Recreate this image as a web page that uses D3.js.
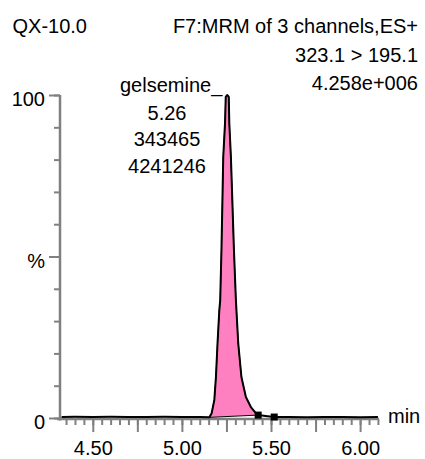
<!DOCTYPE html>
<html>
<head>
<meta charset="utf-8">
<script src="https://cdn.jsdelivr.net/npm/d3@7/dist/d3.min.js"></script>
<style>
  html, body { margin: 0; padding: 0; background: #fff; }
  svg { display: block; }
  text { font-family: Arial, "Liberation Sans", sans-serif; fill: #000; }
</style>
</head>
<body>
<svg id="chart" width="425" height="459"></svg>
<script>
// Chromatogram trace: retention time (min) and relative intensity (%)
const times = [4.325, 4.40, 4.50, 4.60, 4.70, 4.80, 4.90, 5.00, 5.10,
  5.154, 5.167, 5.182, 5.191, 5.200, 5.210, 5.215, 5.222, 5.228, 5.232, 5.242, 5.246,
  5.254, 5.263, 5.266, 5.275, 5.282, 5.292, 5.303, 5.316, 5.334, 5.359, 5.387, 5.415,
  5.428, 5.470, 5.518, 5.60, 5.70, 5.80, 5.90, 6.00, 6.10];
const intensity = [0.3, 0.35, 0.3, 0.35, 0.3, 0.3, 0.35, 0.3, 0.3,
  0.2, 1.5, 5.6, 12.7, 23.2, 33.4, 36.5, 52, 69, 80.8, 91.3, 99.4,
  100, 99.4, 91.3, 80.8, 69, 52, 36.5, 23.2, 12.7, 6.5, 3.4, 1.5,
  0.9, 0.6, 0.3, 0.3, 0.25, 0.3, 0.3, 0.25, 0.3];

// Integration window of the gelsemine peak (start / end retention times)
const peakStart = 5.154;
const peakEnd = 5.428;
// Baseline markers drawn as squares
const markerTimes = [5.428, 5.518];

// Axis ticks
const xMajorTicks = [4.50, 4.75, 5.00, 5.25, 5.50, 5.75, 6.00];
const xLabelTicks = [4.50, 5.00, 5.50, 6.00];
const xMinorStep = 0.05;
const yMinorTicks = [0, 10, 20, 30, 40, 50, 60, 70, 80, 90, 100];
const yLabelTicks = [0, 50, 100];
const yLabels = {0: "0", 50: "%", 100: "100"};

// Header and peak annotation text
const headerLeft = "QX-10.0";
const headerRight = ["F7:MRM of 3 channels,ES+", "323.1 > 195.1", "4.258e+006"];
const peakName = "gelsemine_";
const peakValues = ["5.26", "343465", "4241246"];
const xUnit = "min";

const svg = d3.select("#chart");
const x = d3.scaleLinear().domain([4.316, 6.106]).range([60, 379]);
const y = d3.scaleLinear().domain([0, 100]).range([418, 95]);

const axisColor = "#808080";
const fontSize = 20;
const fontFamily = "Arial, 'Liberation Sans', sans-serif";

// Minor x ticks every 0.05 min
const xMinor = d3.range(Math.round(4.35 / xMinorStep), Math.round(6.10 / xMinorStep) + 1)
  .map(i => +(i * xMinorStep).toFixed(2));

const gx = svg.append("g").attr("transform", `translate(0,${y(0) + 1})`);
gx.append("g")
  .call(d3.axisBottom(x).tickValues(xMinor).tickSize(6).tickFormat(""))
  .call(g => g.select(".domain").remove());
gx.append("g")
  .call(d3.axisBottom(x).tickValues(xMajorTicks).tickSize(13)
    .tickPadding(8.5)
    .tickFormat(d => xLabelTicks.includes(d) ? d3.format(".2f")(d) : ""))
  .call(g => g.select(".domain").remove())
  .call(g => g.selectAll("text").attr("font-size", fontSize)
    .style("font-family", fontFamily).attr("fill", "#000"));
gx.selectAll(".tick line").attr("stroke", axisColor).attr("stroke-width", 2);
gx.append("line")
  .attr("x1", x.range()[0] - 3).attr("x2", x.range()[1])
  .attr("stroke", axisColor).attr("stroke-width", 2.5);

// Y axis
const gy = svg.append("g").attr("transform", `translate(${x.range()[0]},0)`);
gy.append("g")
  .call(d3.axisLeft(y).tickValues(yMinorTicks).tickSize(6).tickFormat(""))
  .call(g => g.select(".domain").remove());
gy.append("g")
  .call(d3.axisLeft(y).tickValues(yLabelTicks).tickSize(11).tickPadding(4)
    .tickFormat(d => yLabels[d]))
  .call(g => g.select(".domain").remove())
  .call(g => g.selectAll("text").attr("font-size", fontSize).attr("dy", "0.54em")
    .style("font-family", fontFamily).attr("fill", "#000"));
gy.selectAll(".tick line").attr("stroke", axisColor).attr("stroke-width", 2);
gy.append("line")
  .attr("y1", y(100)).attr("y2", y(0) + 2.5)
  .attr("stroke", axisColor).attr("stroke-width", 2.5);

// Trace points
const pts = times.map((t, i) => [t, intensity[i]]);
const line = d3.line().x(d => x(d[0])).y(d => y(d[1]));

// Integrated peak area: trace between the integration limits, closed along the baseline
const peakPts = pts.filter(d => d[0] >= peakStart && d[0] <= peakEnd);
svg.append("path")
  .attr("d", line(peakPts) + "Z")
  .attr("fill", "#ff80c0")
  .attr("stroke", "#000")
  .attr("stroke-width", 1);

// Full trace
svg.append("path")
  .attr("d", line(pts))
  .attr("fill", "none")
  .attr("stroke", "#000")
  .attr("stroke-width", 2)
  .attr("stroke-linejoin", "round");

// Baseline markers
const markers = markerTimes.map(t => pts.find(d => d[0] === t));
svg.selectAll("rect.marker").data(markers).join("rect")
  .attr("class", "marker")
  .attr("x", d => x(d[0]) - 3.5).attr("y", d => y(d[1]) - 3.5)
  .attr("width", 7).attr("height", 7)
  .attr("fill", "#000");

// Header
svg.append("text").attr("x", 12.5).attr("y", 33).attr("font-size", fontSize).text(headerLeft);
svg.selectAll("text.hdr").data(headerRight).join("text")
  .attr("class", "hdr")
  .attr("x", 418).attr("y", (d, i) => 33 + i * 28.5)
  .attr("text-anchor", "end").attr("font-size", fontSize)
  .text(d => d);

// Peak annotation: name runs up to the apex, values centred below it
svg.append("text").attr("x", 120).attr("y", 92).attr("font-size", fontSize).text(peakName);
svg.selectAll("text.peak").data(peakValues).join("text")
  .attr("class", "peak")
  .attr("x", 167)
  .attr("y", (d, i) => 119.5 + i * 26.9)
  .attr("text-anchor", "middle").attr("font-size", fontSize)
  .text(d => d);

// Axis unit
svg.append("text").attr("x", 388).attr("y", 423).attr("font-size", fontSize).text(xUnit);
</script>
</body>
</html>
